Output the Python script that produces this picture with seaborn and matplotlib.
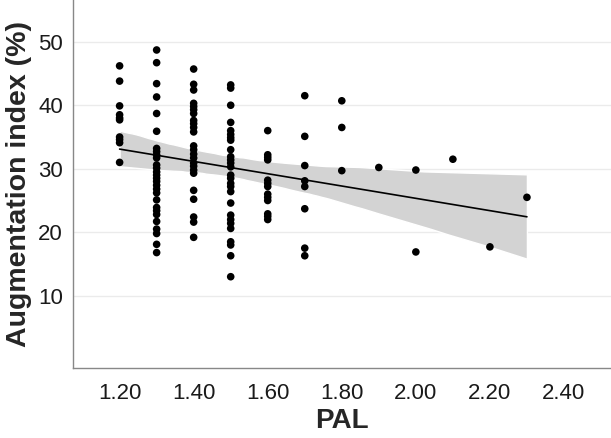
import numpy as np
import pandas as pd
import matplotlib
matplotlib.use("Agg")
import matplotlib.pyplot as plt
import seaborn as sns

# Augmentation index (%) values read per PAL level
pal_levels = [1.2, 1.3, 1.4, 1.5, 1.6, 1.7, 1.8, 1.9, 2.0, 2.1, 2.2, 2.3]
ai_12 = [46.2, 43.8, 39.9, 38.5, 38.0, 37.7, 35.0, 34.6, 34.1, 31.0]
ai_13 = [48.7, 46.7, 43.4, 41.3, 38.7, 35.9, 33.2, 32.7, 32.2, 31.7, 30.6, 30.1,
         29.5, 29.0, 28.5, 28.0, 27.4, 26.8, 26.2, 25.1, 23.9, 23.4, 22.8, 21.7,
         20.5, 19.8, 18.1, 16.8]
ai_14 = [45.7, 43.3, 42.4, 40.3, 39.8, 39.3, 38.7, 37.6, 37.1, 36.5, 35.8, 33.6,
         33.0, 32.3, 31.7, 30.9, 30.4, 29.8, 29.3, 26.6, 25.2, 22.4, 21.6, 19.2]
ai_15 = [43.2, 42.7, 40.0, 37.3, 36.0, 35.4, 34.9, 34.5, 33.0, 31.9, 31.4, 30.9,
         30.3, 29.0, 28.5, 27.7, 27.2, 26.4, 24.6, 22.7, 22.0, 21.4, 20.6, 18.5,
         18.0, 16.3, 13.0]
ai_16 = [36.0, 32.2, 31.8, 31.4, 28.2, 27.7, 27.2, 26.0, 25.5, 25.0, 22.9, 22.5, 22.0]
ai_17 = [41.5, 35.1, 30.5, 28.1, 27.2, 23.7, 17.5, 16.3]
ai_18 = [40.7, 36.5, 29.7]
ai_19 = [30.2]
ai_20 = [29.8, 16.9]
ai_21 = [31.5]
ai_22 = [17.7]
ai_23 = [25.5]

groups = [ai_12, ai_13, ai_14, ai_15, ai_16, ai_17, ai_18, ai_19, ai_20, ai_21, ai_22, ai_23]
x_ticks = [1.2, 1.4, 1.6, 1.8, 2.0, 2.2, 2.4]
x_ticklabels = ["1.20", "1.40", "1.60", "1.80", "2.00", "2.20", "2.40"]
y_ticks = [10, 20, 30, 40, 50]

df = pd.DataFrame({
    "PAL": [p for p, g in zip(pal_levels, groups) for _ in g],
    "AI": [v for g in groups for v in g],
})

sns.set_style("white")
plt.rcParams["font.family"] = ["Liberation Sans", "DejaVu Sans"]

fig = plt.figure(figsize=(6.11, 4.38), dpi=100)
ax = fig.add_axes([0.120, 0.159, 0.880, 0.841])

for yv in y_ticks:
    ax.axhline(yv, color="#EBEBEB", lw=1.0, zorder=0)

sns.regplot(data=df, x="PAL", y="AI", ax=ax, ci=99, seed=3,
            scatter_kws=dict(s=30, color="black", edgecolor="none", alpha=1, zorder=3),
            line_kws=dict(color="black", lw=1.2, zorder=4),
            color="#D3D3D3")
for coll in ax.collections:
    if isinstance(coll, matplotlib.collections.PolyCollection):
        coll.set_facecolor("#D3D3D3")
        coll.set_alpha(1.0)
        coll.set_zorder(2)

ax.set_xlim(1.075, 2.527)
ax.set_ylim(-1.43, 56.57)
ax.set_xticks(x_ticks)
ax.set_xticklabels(x_ticklabels)
ax.set_yticks(y_ticks)

for s in ["top", "right"]:
    ax.spines[s].set_visible(False)
for s in ["left", "bottom"]:
    ax.spines[s].set_color("#888888")
    ax.spines[s].set_linewidth(1.0)

ax.tick_params(axis="both", which="major", labelsize=16, colors="#888888",
               labelcolor="#1a1a1a", length=4.5, width=0.9, direction="out")
ax.tick_params(axis="x", pad=6)
ax.tick_params(axis="y", pad=3)

ax.set_xlabel("PAL", fontsize=20, fontweight="bold", labelpad=3)
ax.set_ylabel("Augmentation index (%)", fontsize=20.5, fontweight="bold", labelpad=4)

fig.savefig("out.png", dpi=100)
